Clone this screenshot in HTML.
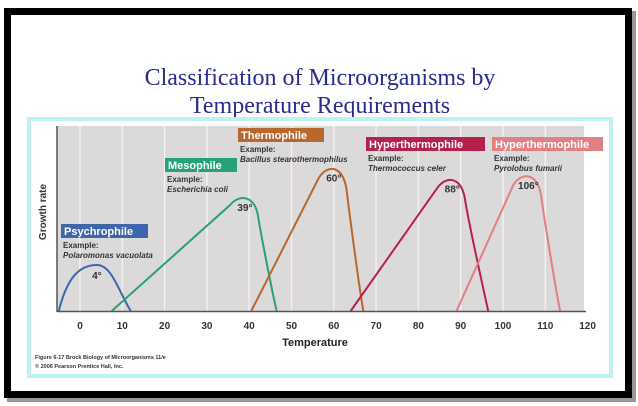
<!DOCTYPE html>
<html><head><meta charset="utf-8"><style>
html,body{margin:0;padding:0;background:#fff;width:638px;height:406px;overflow:hidden}
svg{display:block;font-family:"Liberation Sans",sans-serif}
</style></head><body>
<svg id="c" width="638" height="406" viewBox="0 0 638 406">
<rect x="7" y="11" width="629" height="391" fill="#999"/>
<rect x="4" y="8" width="628" height="390" fill="#000"/>
<rect x="11" y="15" width="614" height="376" fill="#fff"/>
<text x="320" y="85" text-anchor="middle" font-family="Liberation Serif,serif" font-size="24" fill="#2b2b8e">Classification of Microorganisms by</text>
<text x="320" y="113" text-anchor="middle" font-family="Liberation Serif,serif" font-size="24" fill="#2b2b8e">Temperature Requirements</text>
<rect x="29" y="119" width="582" height="257" fill="#fff" stroke="#bff0f4" stroke-width="4"/>
<rect x="57" y="126" width="527" height="185" fill="#dcd9da"/>
<g id="grid"></g>
<g id="curves"></g>
<line x1="57" y1="126" x2="57" y2="312" stroke="#555" stroke-width="1.5"/>
<line x1="57" y1="311.5" x2="586" y2="311.5" stroke="#555" stroke-width="1.5"/>
<g id="ticks"></g>
<text x="315" y="346" text-anchor="middle" font-size="11" font-weight="bold" fill="#222">Temperature</text>
<text transform="translate(46,212) rotate(-90)" text-anchor="middle" font-size="10" font-weight="bold" fill="#333">Growth rate</text>
<g id="labels"></g>
<text x="35" y="359" font-size="5.5" font-weight="bold" fill="#333">Figure 6-17 Brock Biology of Microorganisms 11/e</text>
<text x="35" y="368" font-size="5.5" font-weight="bold" fill="#333">© 2006 Pearson Prentice Hall, Inc.</text>
</svg>
<script>
const tickTemps=[0,10,20,30,40,50,60,70,80,90,100,110,120];
const seriesNames=["Psychrophile","Mesophile","Thermophile","Hyperthermophile","Hyperthermophile"];
const seriesExamples=["Polaromonas vacuolata","Escherichia coli","Bacillus stearothermophilus","Thermococcus celer","Pyrolobus fumarii"];
const optimumTemps=[4,39,60,88,106];
const minTemps=[-5,7.5,40.5,64,89];
const maxTemps=[12,46.5,67,96.5,113.5];
const peakRates=[25,62,78,72,74];
const colors=["#3d66ad","#25a276","#b8672e","#b3214c","#e08080"];
const X=t=>80+4.23*t, Y=g=>311-1.84*g;
const NS="http://www.w3.org/2000/svg";
function mk(tag,attrs,parent,txt){const e=document.createElementNS(NS,tag);for(const k in attrs)e.setAttribute(k,attrs[k]);if(txt!==undefined)e.textContent=txt;document.getElementById(parent).appendChild(e);return e;}
tickTemps.forEach(t=>{
  if(t<120){const l=mk("line",{x1:X(t),y1:126,x2:X(t),y2:311,stroke:"#f2f0f0","stroke-width":1.5},"grid");
  
  }
  const tx=mk("text",{x:X(t),y:329,"text-anchor":"middle","font-size":10,"font-weight":"bold",fill:"#333"},"ticks",String(t));
  
  
});
function P(t,g){return X(t).toFixed(1)+","+Y(g).toFixed(1);}
function curve(i){
 const a=minTemps[i],p=optimumTemps[i],g=peakRates[i],b=maxTemps[i];
 if(i===0){
  return "M"+P(a,0)+" C"+P(a+2,g*0.75)+" "+P(p-4,g)+" "+P(p,g)+" C"+P(p+3.5,g)+" "+P(b-3,g*0.45)+" "+P(b,0);
 }
 const l=p-3.5;
 const gl=g*0.93;
 return "M"+P(a,0)+" L"+P(l,gl)+" C"+P(p-1.5,g*1.02)+" "+P(p+2,g*1.02)+" "+P(p+3,g*0.85)+
   " C"+P(p+3.6,g*0.7)+" "+P(b-0.8,g*0.12)+" "+P(b,0);
}
const curveNames=["psychrophile-curve","mesophile-curve","thermophile-curve","hyperthermophile-curve-1","hyperthermophile-curve-2"];
optimumTemps.forEach((t,i)=>{const p=mk("path",{d:curve(i),fill:"none",stroke:colors[i],"stroke-width":2},"curves");
 
 
 const o=mk("text",{x:X(t),y:Y(peakRates[i])+14,"text-anchor":"middle","font-size":10,"font-weight":"bold",fill:"#333"},"labels",t+"°");
 
 
});
const boxX=[61,165,238,366,492],boxY=[224,158,128,137,137],boxW=[87,72,86,119,111];
seriesNames.forEach((n,i)=>{
 const r=mk("rect",{x:boxX[i],y:boxY[i],width:boxW[i],height:14,fill:colors[i]},"labels");
 
 
 const t=mk("text",{x:boxX[i]+3,y:boxY[i]+11,"font-size":11,"font-weight":"bold",fill:"#fff"},"labels",n);
 
 
 const e=mk("text",{x:boxX[i]+2,y:boxY[i]+24,"font-size":8,"font-weight":"bold",fill:"#333"},"labels","Example:");
 
 
 const f=mk("text",{x:boxX[i]+2,y:boxY[i]+34,"font-size":8,"font-weight":"bold","font-style":"italic",fill:"#333"},"labels",seriesExamples[i]);
 
 
});
</script>
</body></html>
